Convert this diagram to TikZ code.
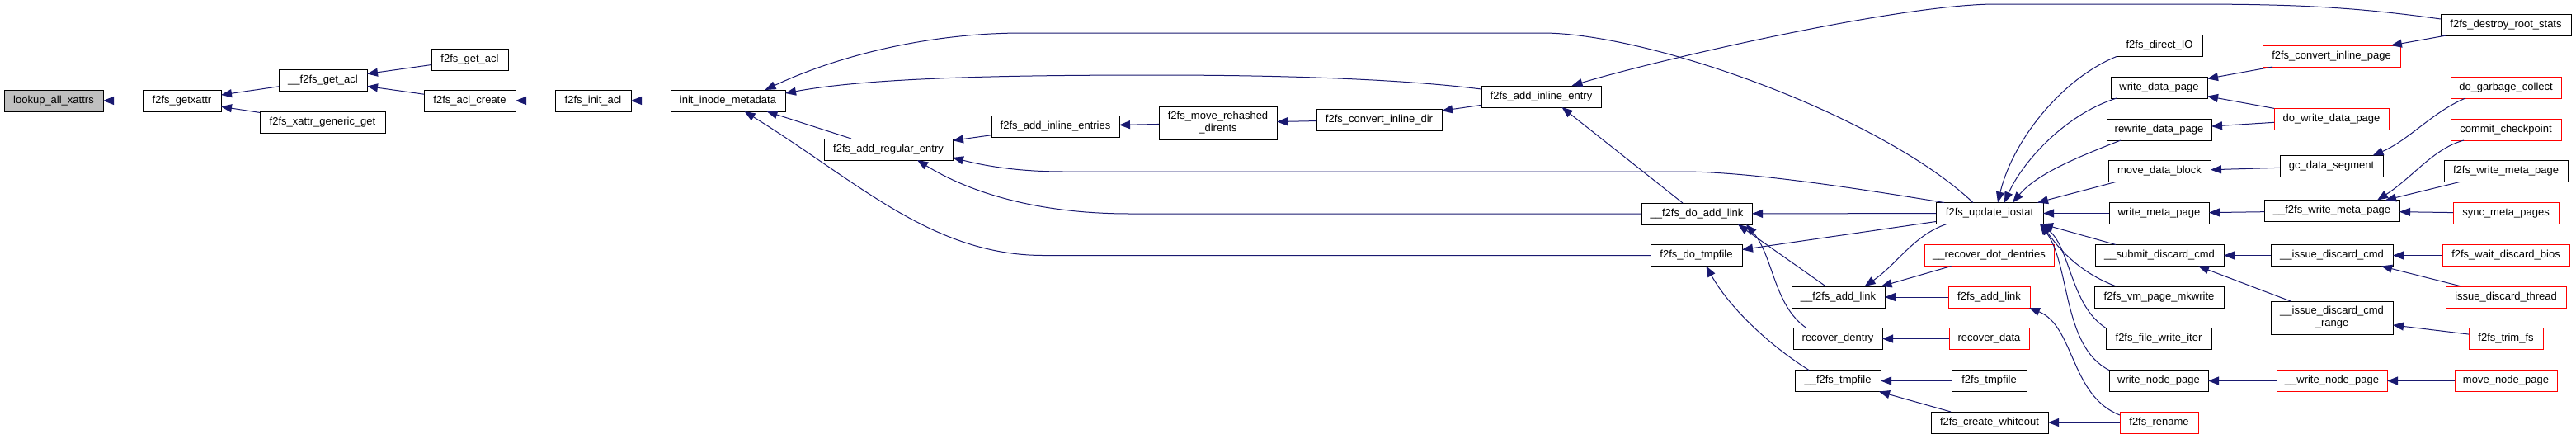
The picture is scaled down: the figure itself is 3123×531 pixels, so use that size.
\documentclass[tikz,border=0pt]{standalone}
\usepackage{fontspec}
\setmainfont{Liberation Sans}
\usetikzlibrary{arrows.meta}
\definecolor{edgeblue}{HTML}{191970}
\definecolor{nodegrey}{HTML}{BFBFBF}
\newcommand\nfont{\fontsize{13}{15}\selectfont}
\begin{document}
\begin{tikzpicture}[x=1pt,y=-1pt,
  box/.style={draw=black, line width=1pt, fill=white, inner sep=0pt, outer sep=0pt, minimum height=26pt, font=\nfont, align=center},
  redbox/.style={box, draw=red},
  greybox/.style={box, fill=nodegrey},
  call/.style={draw=edgeblue, line width=1pt, -{Triangle[length=13pt,width=10pt]}}]
\fill[white] (0,0) rectangle (3123,531);
\useasboundingbox (0,0) rectangle (3123,531);
% nodes
\node[greybox, minimum width=120pt] (lookup) at (65,122) {lookup\_all\_xattrs};
\node[box, minimum width=95pt] (getxattr) at (220.5,122) {f2fs\_getxattr};
\node[box, minimum width=107pt] (getacli) at (391.5,97) {\_\_f2fs\_get\_acl};
\node[box, minimum width=152pt] (xattrget) at (391,148) {f2fs\_xattr\_generic\_get};
\node[box, minimum width=93pt] (getacl) at (569.5,72) {f2fs\_get\_acl};
\node[box, minimum width=111pt] (aclcreate) at (569.5,122) {f2fs\_acl\_create};
\node[box, minimum width=92pt] (initacl) at (719,122) {f2fs\_init\_acl};
\node[box, minimum width=139pt] (initmeta) at (882.5,122) {init\_inode\_metadata};
\node[box, minimum width=156pt] (addreg) at (1077,181) {f2fs\_add\_regular\_entry};
\node[box, minimum width=155pt] (addinlines) at (1279.5,153) {f2fs\_add\_inline\_entries};
\node[box, minimum width=143pt, minimum height=40pt] (moverehash) at (1476.5,149) {f2fs\_move\_rehashed\\\_dirents};
\node[box, minimum width=152pt] (convdir) at (1672,145) {f2fs\_convert\_inline\_dir};
\node[box, minimum width=145pt] (addinline) at (1868.5,117) {f2fs\_add\_inline\_entry};
\node[box, minimum width=134pt] (doaddlink) at (2057,259) {\_\_f2fs\_do\_add\_link};
\node[box, minimum width=111pt] (dotmpfile) at (2056.5,309.5) {f2fs\_do\_tmpfile};
\node[box, minimum width=113pt] (uaddlink) at (2228.5,360) {\_\_f2fs\_add\_link};
\node[box, minimum width=108pt] (recdentry) at (2228,410.5) {recover\_dentry};
\node[box, minimum width=104pt] (utmpfile) at (2228,461.5) {\_\_f2fs\_tmpfile};
\node[box, minimum width=130pt] (iostat) at (2412,258.5) {f2fs\_update\_iostat};
\node[redbox, minimum width=157pt] (recdot) at (2411.5,309.5) {\_\_recover\_dot\_dentries};
\node[redbox, minimum width=99pt] (addlink) at (2411.5,360) {f2fs\_add\_link};
\node[redbox, minimum width=97pt] (recdata) at (2411.5,410.5) {recover\_data};
\node[box, minimum width=91pt] (tmpfile) at (2411.5,461.5) {f2fs\_tmpfile};
\node[box, minimum width=142pt] (whiteout) at (2412,512) {f2fs\_create\_whiteout};
\node[box, minimum width=104pt] (directio) at (2618,55.5) {f2fs\_direct\_IO};
\node[box, minimum width=117pt] (writedata) at (2617.5,106) {write\_data\_page};
\node[box, minimum width=127pt] (rewritedata) at (2617.5,157) {rewrite\_data\_page};
\node[box, minimum width=124pt] (movedata) at (2618,207.5) {move\_data\_block};
\node[box, minimum width=121pt] (writemeta) at (2617.5,258.5) {write\_meta\_page};
\node[box, minimum width=156pt] (submit) at (2618,309.5) {\_\_submit\_discard\_cmd};
\node[box, minimum width=157pt] (mkwrite) at (2617.5,360) {f2fs\_vm\_page\_mkwrite};
\node[box, minimum width=128pt] (writeiter) at (2617,410.5) {f2fs\_file\_write\_iter};
\node[box, minimum width=120pt] (writenode) at (2617,461.5) {write\_node\_page};
\node[redbox, minimum width=95pt] (rename) at (2617.5,512) {f2fs\_rename};
\node[redbox, minimum width=167pt] (convpage) at (2826.5,68) {f2fs\_convert\_inline\_page};
\node[redbox, minimum width=139pt] (dowritedata) at (2826.5,144) {do\_write\_data\_page};
\node[box, minimum width=125pt] (gcdata) at (2826.5,201.5) {gc\_data\_segment};
\node[box, minimum width=164pt] (uwritemeta) at (2827,255.5) {\_\_f2fs\_write\_meta\_page};
\node[box, minimum width=148pt] (issue) at (2827,309.5) {\_\_issue\_discard\_cmd};
\node[box, minimum width=148pt, minimum height=40pt] (issuerange) at (2827,385) {\_\_issue\_discard\_cmd\\\_range};
\node[redbox, minimum width=134pt] (uwritenode) at (2827,461.5) {\_\_write\_node\_page};
\node[box, minimum width=158pt] (destroy) at (3038,30) {f2fs\_destroy\_root\_stats};
\node[redbox, minimum width=134pt] (dogc) at (3038,106) {do\_garbage\_collect};
\node[redbox, minimum width=134pt] (commit) at (3038,157) {commit\_checkpoint};
\node[box, minimum width=150pt] (fwritemeta) at (3038,207.5) {f2fs\_write\_meta\_page};
\node[redbox, minimum width=128pt] (syncmeta) at (3038,258.5) {sync\_meta\_pages};
\node[redbox, minimum width=154pt] (waitdiscard) at (3038,309.5) {f2fs\_wait\_discard\_bios};
\node[redbox, minimum width=146pt] (issuethread) at (3038,360) {issue\_discard\_thread};
\node[redbox, minimum width=90pt] (trimfs) at (3038,410.5) {f2fs\_trim\_fs};
\node[redbox, minimum width=124pt] (movenode) at (3038,461.5) {move\_node\_page};
% edges
\draw[call] (getxattr) -- (lookup);
\draw[call] (getacli) -- (getxattr);
\draw[call] (xattrget) -- (getxattr);
\draw[call] (getacl) -- (getacli);
\draw[call] (aclcreate) -- (getacli);
\draw[call] (initacl) -- (aclcreate);
\draw[call] (initmeta) -- (initacl);
\draw[call] ([xshift=-20pt]iostat.north) .. controls (2280,140) and (2000,40) .. (1870,40) -- (1240,40) .. controls (1120,40) and (1010,70) .. ([xshift=45pt]initmeta.north);
\draw[call] ([yshift=9pt]addinline.west) .. controls (1700,96) and (1560,91) .. (1400,91) .. controls (1200,91) and (1050,95) .. ([yshift=9pt]initmeta.east);
\draw[call] ([xshift=-45pt]addreg.north) -- ([xshift=47pt]initmeta.south);
\draw[call] (dotmpfile.west) -- (1265,309.5) .. controls (1130,309.5) and (1040,220) .. ([xshift=20pt]initmeta.south);
\draw[call] (addinlines) -- (addreg);
\draw[call] ([xshift=-55pt]iostat.north) .. controls (2250,228) and (2120,208) .. (2040,208) -- (1290,208) .. controls (1230,208) and (1190,200) .. ([yshift=-10pt]addreg.east);
\draw[call] (doaddlink.west) -- (1370,259) .. controls (1250,259) and (1170,230) .. ([xshift=35pt]addreg.south);
\draw[call] (moverehash) -- (addinlines);
\draw[call] (convdir) -- (moverehash);
\draw[call] (addinline) -- (convdir);
\draw[call] ([yshift=7pt]destroy.west) .. controls (2850,8) and (2780,5) .. (2650,5) -- (2420,5) .. controls (2300,5) and (2000,75) .. ([xshift=37pt]addinline.north);
\draw[call] ([xshift=-17pt]doaddlink.north) -- ([xshift=25pt]addinline.south);
\draw[call] (iostat) -- (doaddlink);
\draw[call] ([xshift=-15pt]uaddlink.north) -- ([xshift=50pt]doaddlink.south);
\draw[call] ([xshift=-38pt]recdentry.north) .. controls (2150,370) and (2150,310) .. ([xshift=60pt]doaddlink.south);
\draw[call] ([yshift=-10pt]iostat.west) -- ([yshift=7pt]dotmpfile.east);
\draw[call] ([xshift=-35pt]utmpfile.north) .. controls (2140,415) and (2095,370) .. ([xshift=12pt]dotmpfile.south);
\draw[call] ([xshift=-52pt]iostat.south) .. controls (2320,285) and (2300,320) .. ([xshift=32pt]uaddlink.north);
\draw[call] ([xshift=-46pt]recdot.south) -- ([xshift=52pt]uaddlink.north);
\draw[call] (addlink) -- (uaddlink);
\draw[call] (recdata) -- (recdentry);
\draw[call] (tmpfile) -- (utmpfile);
\draw[call] ([xshift=-47pt]whiteout.north) -- ([xshift=50pt]utmpfile.south);
\draw[call] (rename) -- (whiteout);
\draw[call] ([yshift=9pt]rename.west) .. controls (2510,480) and (2515,395) .. ([xshift=-1pt]addlink.south east);
\draw[call] (directio.south west) .. controls (2500,95) and (2440,170) .. ([xshift=10pt]iostat.north);
\draw[call] ([xshift=7pt]writedata.south west) .. controls (2500,140) and (2450,200) .. ([xshift=18pt]iostat.north);
\draw[call] ([xshift=17pt]rewritedata.south west) .. controls (2520,190) and (2470,210) .. ([xshift=28pt]iostat.north);
\draw[call] ([xshift=-53pt]movedata.south) -- ([xshift=58pt]iostat.north);
\draw[call] (writemeta) -- (iostat);
\draw[call] ([xshift=-53pt]submit.north) -- ([xshift=-1pt]iostat.south east);
\draw[call] ([xshift=-52pt]mkwrite.north) .. controls (2520,330) and (2495,300) .. ([xshift=-2pt]iostat.south east);
\draw[call] (writeiter.north west) .. controls (2510,370) and (2510,300) .. ([xshift=-3pt]iostat.south east);
\draw[call] (writenode.north west) .. controls (2500,420) and (2510,320) .. ([xshift=-4pt]iostat.south east);
\draw[call] (destroy) -- (convpage);
\draw[call] (convpage) -- (writedata);
\draw[call] (dowritedata) -- (writedata);
\draw[call] (dowritedata) -- (rewritedata);
\draw[call] ([xshift=-49pt]dogc.south) .. controls (2950,135) and (2920,170) .. ([xshift=50pt]gcdata.north);
\draw[call] (gcdata) -- (movedata);
\draw[call] (uwritemeta) -- (writemeta);
\draw[call] ([xshift=-51pt]commit.south) .. controls (2950,180) and (2925,215) .. ([xshift=55pt]uwritemeta.north);
\draw[call] ([xshift=-56pt]fwritemeta.south) -- ([xshift=65pt]uwritemeta.north);
\draw[call] (syncmeta) -- (uwritemeta);
\draw[call] (issue) -- (submit);
\draw[call] ([xshift=-50pt]issuerange.north) -- ([xshift=47pt]submit.south);
\draw[call] (waitdiscard) -- (issue);
\draw[call] ([xshift=-54pt]issuethread.north) -- ([xshift=60pt]issue.south);
\draw[call] (trimfs) -- (issuerange);
\draw[call] (uwritenode) -- (writenode);
\draw[call] (movenode) -- (uwritenode);
\end{tikzpicture}
\end{document}
